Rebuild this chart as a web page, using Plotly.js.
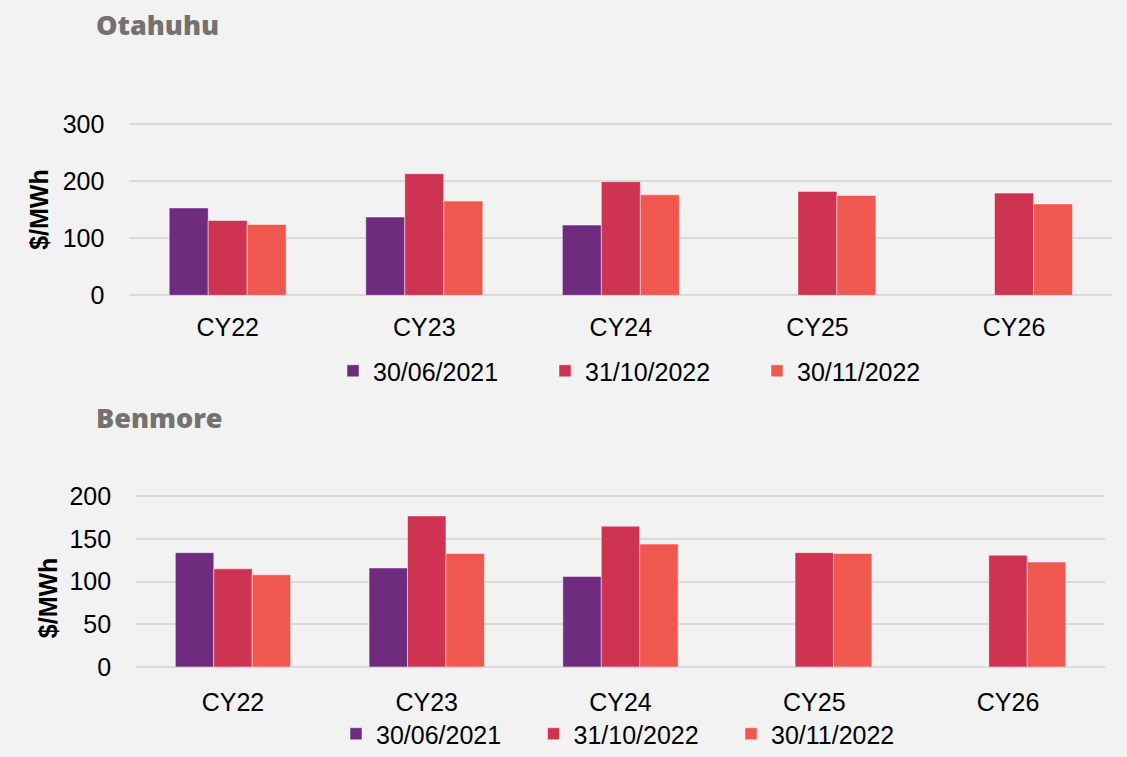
<!DOCTYPE html>
<html>
<head>
<meta charset="utf-8">
<script src="https://cdn.plot.ly/plotly-3.0.1.min.js"></script>
<style>
html,body{margin:0;padding:0;background:#F2F2F2;}
#chart{width:1127px;height:757px;}
</style>
</head>
<body>
<div id="chart"></div>
<script>
const categories = ['CY22', 'CY23', 'CY24', 'CY25', 'CY26'];
const seriesNames = ['30/06/2021', '31/10/2022', '30/11/2022'];
const seriesColors = ['#6F2B7E', '#CE3351', '#F0584F'];

// Otahuhu ($/MWh)
const otahuhu_30062021 = [153, 137, 123, null, null];
const otahuhu_31102022 = [131, 213, 199, 182, 179];
const otahuhu_30112022 = [124, 165, 176, 175, 160];

// Benmore ($/MWh)
const benmore_30062021 = [134, 116, 106, null, null];
const benmore_31102022 = [115, 177, 165, 134, 131];
const benmore_30112022 = [108, 133, 144, 133, 123];

const otahuhuSeries = [otahuhu_30062021, otahuhu_31102022, otahuhu_30112022];
const benmoreSeries = [benmore_30062021, benmore_31102022, benmore_30112022];

const W = 1127, H = 757;
const px = v => v / W;
const py = v => 1 - v / H;

const traces = [];
otahuhuSeries.forEach((vals, i) => {
  traces.push({
    type: 'bar', x: categories, y: vals, name: seriesNames[i],
    xaxis: 'x', yaxis: 'y', legend: 'legend',
    marker: {color: seriesColors[i], line: {color: 'rgba(255,255,255,0.45)', width: 1}},
    hoverinfo: 'x+y+name'
  });
});
benmoreSeries.forEach((vals, i) => {
  traces.push({
    type: 'bar', x: categories, y: vals, name: seriesNames[i],
    xaxis: 'x2', yaxis: 'y2', legend: 'legend2',
    marker: {color: seriesColors[i], line: {color: 'rgba(255,255,255,0.45)', width: 1}},
    hoverinfo: 'x+y+name'
  });
});

const tickFont = {family: 'Liberation Sans, Arial, sans-serif', size: 25, color: '#000000'};
const gridColor = '#D9D9D9';

const xBase = {
  type: 'category', showgrid: false, zeroline: false, showline: false,
  ticks: '', tickfont: tickFont, automargin: false, fixedrange: true
};
const yBase = {
  showgrid: true, gridcolor: gridColor, gridwidth: 2,
  zeroline: true, zerolinecolor: gridColor, zerolinewidth: 2, showline: false,
  ticks: '', tickfont: tickFont, automargin: false, fixedrange: true, ticklabelstandoff: 24
};

const legendBase = {
  orientation: 'h', xanchor: 'left', yanchor: 'middle',
  font: tickFont, bgcolor: 'rgba(0,0,0,0)', borderwidth: 0,
  itemwidth: 30, entrywidthmode: 'pixels', traceorder: 'normal'
};

const layout = {
  width: W, height: H,
  paper_bgcolor: '#F2F2F2', plot_bgcolor: '#F2F2F2',
  margin: {l: 0, r: 0, t: 0, b: 0},
  barmode: 'group', bargap: 0.405, bargroupgap: 0,
  showlegend: true,
  xaxis: Object.assign({}, xBase, {domain: [px(129.4), px(1112.3)], anchor: 'y', ticklabelstandoff: 15}),
  yaxis: Object.assign({}, yBase, {domain: [py(297.7), py(123.85)], range: [0, 302], tickvals: [0, 100, 200, 300], anchor: 'x'}),
  xaxis2: Object.assign({}, xBase, {domain: [px(136.1), px(1104.9)], anchor: 'y2', ticklabelstandoff: 18}),
  yaxis2: Object.assign({}, yBase, {domain: [py(672.3), py(498.58)], range: [0, 202], tickvals: [0, 50, 100, 150, 200], anchor: 'x2'}),
  legend: Object.assign({}, legendBase, {x: px(333), y: py(374), entrywidth: 167}),
  legend2: Object.assign({}, legendBase, {x: px(336), y: py(740), entrywidth: 152.5}),
  annotations: [
    {text: 'Otahuhu', xref: 'paper', yref: 'paper', x: px(94), y: py(24.5), xanchor: 'left', yanchor: 'middle',
     showarrow: false, font: {family: 'Open Sans, sans-serif', size: 27, color: '#767171', weight: 800}},
    {text: 'Benmore', xref: 'paper', yref: 'paper', x: px(94), y: py(420.5), xanchor: 'left', yanchor: 'middle',
     showarrow: false, font: {family: 'Open Sans, sans-serif', size: 27, color: '#767171', weight: 800}},
    {text: '<b>$/MWh</b>', xref: 'paper', yref: 'paper', x: px(39), y: py(211.5), xanchor: 'center', yanchor: 'middle',
     textangle: -90, showarrow: false, font: {family: 'Liberation Sans, Arial, sans-serif', size: 25, color: '#000000'}},
    {text: '<b>$/MWh</b>', xref: 'paper', yref: 'paper', x: px(48), y: py(603), xanchor: 'center', yanchor: 'middle',
     textangle: -90, showarrow: false, font: {family: 'Liberation Sans, Arial, sans-serif', size: 25, color: '#000000'}}
  ]
};

Plotly.newPlot('chart', traces, layout, {displayModeBar: false, staticPlot: true});
</script>
</body>
</html>
